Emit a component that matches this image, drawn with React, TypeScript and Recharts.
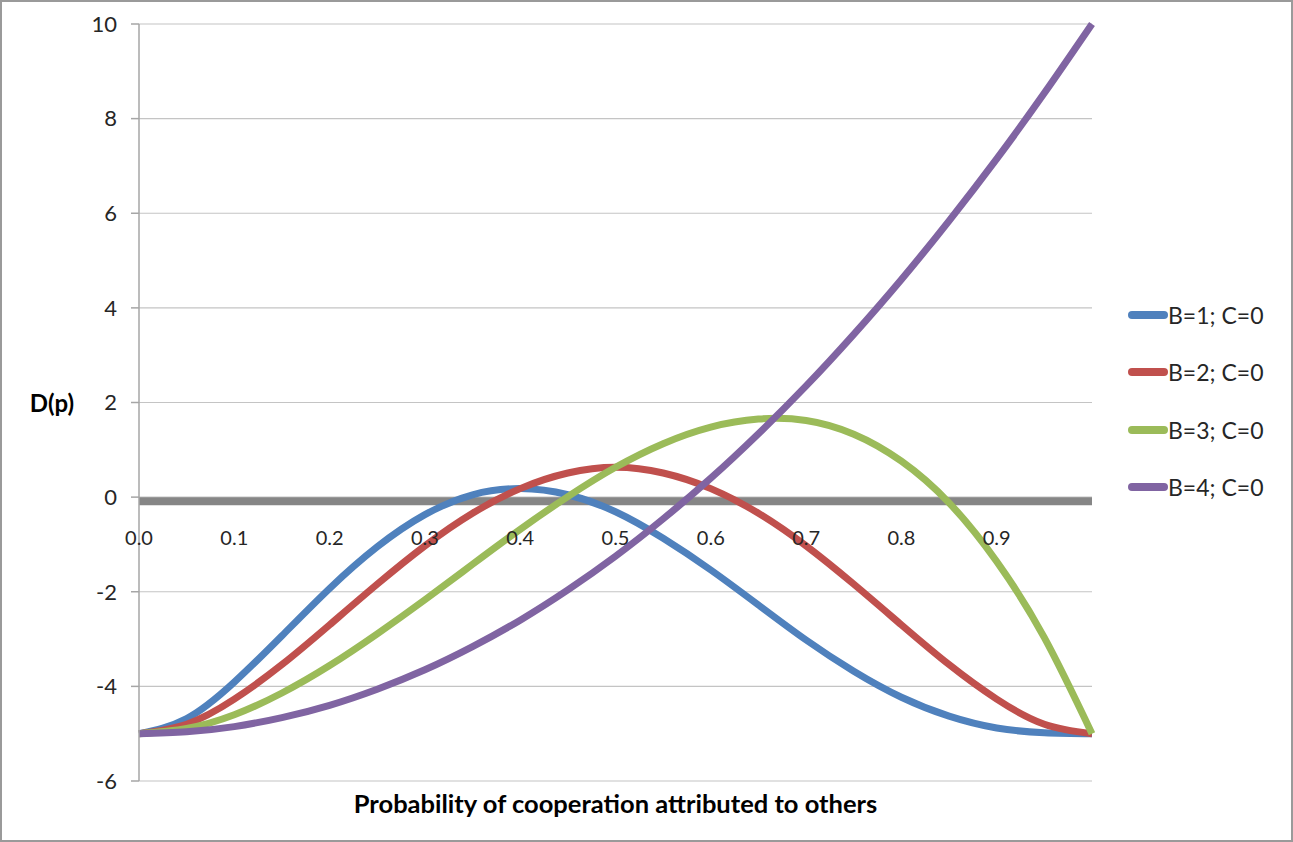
import React from 'react';
import {
  LineChart,
  Line,
  XAxis,
  YAxis,
  CartesianGrid,
  ReferenceLine,
  Legend,
} from 'recharts';

const P = [0, 0.05, 0.1, 0.15, 0.2, 0.25, 0.3, 0.35, 0.4, 0.45, 0.5, 0.55, 0.6, 0.65, 0.7, 0.75, 0.8, 0.85, 0.9, 0.95, 1];
const B1 = [-5, -4.68, -3.91, -2.93, -1.93, -1.05, -0.37, 0.05, 0.18, 0.05, -0.31, -0.87, -1.54, -2.28, -3.02, -3.68, -4.23, -4.63, -4.88, -4.98, -5];
const B2 = [-5, -4.8, -4.27, -3.54, -2.7, -1.84, -1.03, -0.34, 0.18, 0.51, 0.63, 0.51, 0.18, -0.34, -1.03, -1.84, -2.7, -3.54, -4.27, -4.8, -5];
const B3 = [-5, -4.89, -4.6, -4.14, -3.56, -2.89, -2.17, -1.42, -0.68, 0.01, 0.63, 1.13, 1.48, 1.65, 1.62, 1.33, 0.76, -0.12, -1.36, -2.97, -5];
const B4 = [-5, -4.96, -4.85, -4.66, -4.4, -4.06, -3.65, -3.16, -2.6, -1.96, -1.25, -0.46, 0.4, 1.34, 2.35, 3.44, 4.6, 5.84, 7.15, 8.54, 10];

const X_TICKS = [0, 0.1, 0.2, 0.3, 0.4, 0.5, 0.6, 0.7, 0.8, 0.9];
const Y_TICKS = [-6, -4, -2, 0, 2, 4, 6, 8, 10];
const SERIES = [
  { key: 'b1', name: 'B=1; C=0', color: '#4F81BD' },
  { key: 'b2', name: 'B=2; C=0', color: '#C0504D' },
  { key: 'b3', name: 'B=3; C=0', color: '#9BBB59' },
  { key: 'b4', name: 'B=4; C=0', color: '#8064A2' },
];

const data = P.map((p, i) => ({ p, b1: B1[i], b2: B2[i], b3: B3[i], b4: B4[i] }));

const FONT = 'Lato, "Open Sans", sans-serif';
const TEXT = '#262626';
const W = 1289;
const H = 838;
const MARGIN = { top: 22, right: 199, bottom: 0, left: 0 };
const X_AXIS_H = 59;
const PLOT_H = H - MARGIN.top - MARGIN.bottom - X_AXIS_H;
const ZERO_Y = MARGIN.top + (PLOT_H * 10) / 16;

const XTick = (props: any) => {
  const { x, payload } = props;
  return (
    <text x={x} y={ZERO_Y + 40} textAnchor="middle" dominantBaseline="central" fontFamily={FONT} fontSize={20} fill={TEXT}>
      {Number(payload.value).toFixed(1)}
    </text>
  );
};

const LegendContent = (props: any) => {
  const items = props.payload || [];
  return (
    <div>
      {items.map((it: any) => (
        <div key={it.value} style={{ height: 57.5, display: 'flex', alignItems: 'center' }}>
          <svg width={42} height={10}>
            <line x1={6} x2={38} y1={5} y2={5} stroke={it.color} strokeWidth={8} strokeLinecap="round" />
          </svg>
          <span style={{ fontFamily: FONT, fontSize: 23, color: TEXT }}>{it.value}</span>
        </div>
      ))}
    </div>
  );
};

const ZeroLine = (props: any) => (
  <line x1={props.x1} y1={props.y1 + 4} x2={props.x2} y2={props.y2 + 4} stroke="#868686" strokeWidth={8} />
);

export default function App() {
  return (
    <div
      style={{
        position: 'absolute',
        left: 0,
        top: 0,
        width: 1293,
        height: 842,
        boxSizing: 'border-box',
        border: '2px solid #9a9a9a',
        background: '#fff',
      }}
    >
      <LineChart width={W} height={H} data={data} margin={MARGIN}>
        <CartesianGrid vertical={false} stroke="#c4c4c4" strokeWidth={1.2} />
        <XAxis
          dataKey="p"
          type="number"
          domain={[0, 1]}
          ticks={X_TICKS}
          interval={0}
          axisLine={false}
          tickLine={false}
          height={X_AXIS_H}
          tick={<XTick />}
          label={{
            content: (lp: any) => {
              const vb = lp.viewBox;
              return (
                <text
                  x={vb.x + vb.width / 2}
                  y={vb.y + 22}
                  textAnchor="middle"
                  dominantBaseline="central"
                  fontFamily={FONT}
                  fontWeight="bold"
                  fontSize={25.5}
                  fill="#000"
                >
                  Probability of cooperation attributed to others
                </text>
              );
            },
          }}
        />
        <YAxis
          type="number"
          domain={[-6, 10]}
          ticks={Y_TICKS}
          interval={0}
          width={137}
          tickSize={8}
          tickMargin={14}
          axisLine={{ stroke: '#a6a6a6', strokeWidth: 1.5 }}
          tickLine={{ stroke: '#a6a6a6', strokeWidth: 1.5 }}
          tick={{ fontFamily: FONT, fontSize: 22, fill: TEXT }}
          label={{
            content: (lp: any) => {
              const vb = lp.viewBox;
              return (
                <text
                  x={vb.x + 50}
                  y={vb.y + vb.height / 2}
                  textAnchor="middle"
                  dominantBaseline="central"
                  fontFamily={FONT}
                  fontWeight="bold"
                  fontSize={24}
                  fill="#000"
                >
                  D(p)
                </text>
              );
            },
          }}
        />
        <ReferenceLine y={0} shape={<ZeroLine />} />
        <Legend
          layout="horizontal"
          align="center"
          verticalAlign="middle"
          content={<LegendContent />}
          wrapperStyle={{ left: 1124, top: 284, width: 165 }}
        />
        {SERIES.map((s) => (
          <Line
            key={s.key}
            type="natural"
            dataKey={s.key}
            name={s.name}
            stroke={s.color}
            strokeWidth={7}
            dot={false}
            activeDot={false}
            isAnimationActive={false}
          />
        ))}
      </LineChart>
    </div>
  );
}
